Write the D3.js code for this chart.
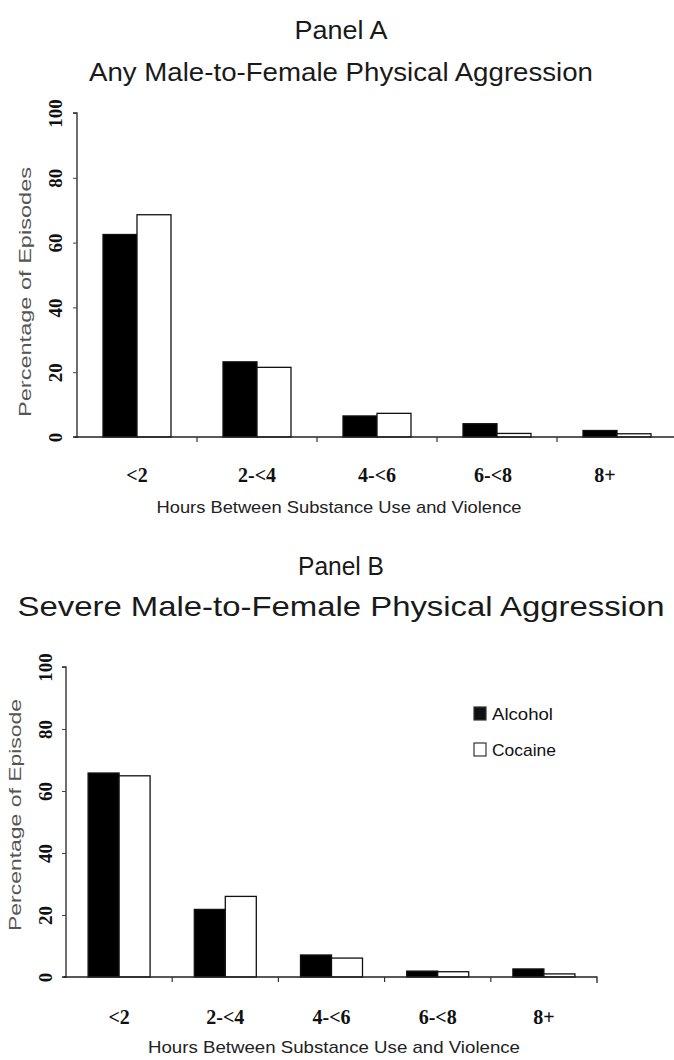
<!DOCTYPE html>
<html><head><meta charset="utf-8">
<script src="https://cdn.jsdelivr.net/npm/d3@7"></script>
<style>body{margin:0;background:#fff;} svg{display:block;}</style>
</head><body>
<svg id="chart" width="674" height="1060"></svg>
<script>
const categories = ["<2", "2-<4", "4-<6", "6-<8", "8+"];
const categoryLabelsB = ["<2", "2-<4", "4-<6", "6-<8", "8+"];
const series = ["Alcohol", "Cocaine"];
const alcoholA = [62.5, 23.2, 6.5, 4.1, 2.0];
const cocaineA = [68.6, 21.5, 7.3, 1.1, 1.0];
const alcoholB = [65.8, 21.8, 7.1, 1.9, 2.6];
const cocaineB = [64.9, 26.0, 6.1, 1.7, 1.0];
const yTicks = [0, 20, 40, 60, 80, 100];

const svg = d3.select("#chart");
svg.append("rect").attr("width", 674).attr("height", 1060).attr("fill", "#fff");

const serif = "'Liberation Serif', 'Times New Roman', serif";
const sans = "'Liberation Sans', Arial, Helvetica, sans-serif";
const narrow = "'Liberation Sans Narrow', 'Liberation Sans', Arial, sans-serif";

function panel(cfg) {
  const g = svg.append("g");
  const rows = categories.map((c, i) => ({cat: c, Alcohol: cfg.alc[i], Cocaine: cfg.coc[i]}));
  const x = d3.scaleBand().domain(categories).range([cfg.x0, cfg.x1]).padding(0);
  const xs = d3.scaleBand().domain(series).range([0, x.bandwidth()]).paddingInner(0).paddingOuter(cfg.pOuter);
  const y = d3.scaleLinear().domain([0, 100]).range([cfg.yBase, cfg.yTop]);

  // titles
  g.append("text").attr("x", cfg.cx).attr("y", cfg.t1y).attr("text-anchor", "middle")
    .attr("font-family", sans).attr("font-size", cfg.t1size).attr("fill", "#1a1a1a")
    .attr("textLength", cfg.t1len).attr("lengthAdjust", "spacingAndGlyphs").text(cfg.title1);
  g.append("text").attr("x", cfg.cx).attr("y", cfg.t2y).attr("text-anchor", "middle")
    .attr("font-family", sans).attr("font-size", cfg.t2size).attr("fill", "#1a1a1a")
    .attr("textLength", cfg.t2len).attr("lengthAdjust", "spacingAndGlyphs").text(cfg.title2);

  // bars
  const grp = g.selectAll("g.cat").data(rows).join("g")
    .attr("transform", d => `translate(${x(d.cat)},0)`);
  grp.selectAll("rect").data(d => series.map(s => ({s, v: d[s]}))).join("rect")
    .attr("x", d => xs(d.s)).attr("width", xs.bandwidth())
    .attr("y", d => y(d.v)).attr("height", d => y(0) - y(d.v))
    .attr("fill", d => d.s === "Alcohol" ? "#000" : "#fff")
    .attr("stroke", "#111").attr("stroke-width", 1.3);

  // y axis
  const ya = g.append("g").attr("transform", `translate(${cfg.yAxisX},0)`)
    .call(d3.axisLeft(y).tickValues(yTicks).tickSize(4).tickFormat(d3.format("d")));
  ya.select(".domain").attr("stroke", "#222").attr("stroke-width", 1.3)
    .attr("d", `M-4,${y(100)}H0V${y(0)}H-4`);
  ya.selectAll(".tick line").attr("stroke", "#444");
  ya.selectAll(".tick text")
    .attr("font-family", serif).attr("font-weight", "bold").attr("font-size", 19).attr("fill", "#111")
    .attr("text-anchor", "middle").attr("x", null).attr("dy", null)
    .attr("transform", `translate(${-cfg.labOff},0) rotate(-90)`)
    .attr("dominant-baseline", "central");

  // x axis: baseline + boundary ticks
  const xa = g.append("g").attr("transform", `translate(0,${cfg.yBase})`)
    .call(d3.axisBottom(x).tickSize(0).tickFormat(""));
  xa.select(".domain").attr("stroke", "#222").attr("stroke-width", 1.3)
    .attr("d", `M${cfg.baseStart},0H${cfg.x1}` + (cfg.endTick ? "V6" : ""));
  const bounds = categories.slice(1).map(c => x(c));
  xa.selectAll("line.bt").data(bounds).join("line").attr("class", "bt")
    .attr("x1", d => d).attr("x2", d => d).attr("y1", 0).attr("y2", 5)
    .attr("stroke", "#333").attr("stroke-width", 1.2);
  g.selectAll("text.xl").data(cfg.labels).join("text").attr("class", "xl")
    .attr("x", (d, i) => x(categories[i]) + x.bandwidth() / 2 + cfg.labShift[i])
    .attr("y", cfg.xlabY).attr("text-anchor", "middle")
    .attr("font-family", serif).attr("font-weight", "bold").attr("font-size", 20).attr("fill", "#111")
    .text(d => d);

  // axis titles
  g.append("text").attr("x", cfg.xtX).attr("y", cfg.xtY).attr("text-anchor", "middle")
    .attr("font-family", narrow).attr("font-size", 17).attr("fill", "#222")
    .attr("textLength", cfg.xtLen).attr("lengthAdjust", "spacingAndGlyphs")
    .text("Hours Between Substance Use and Violence");
  g.append("text").attr("transform", `translate(${cfg.ytX},${cfg.ytY}) rotate(-90)`)
    .attr("text-anchor", "middle").attr("dominant-baseline", "central")
    .attr("font-family", sans).attr("font-size", 16).attr("fill", "#555")
    .attr("textLength", cfg.ytLen).attr("lengthAdjust", "spacingAndGlyphs")
    .text(cfg.ytitle);

  if (cfg.legend) {
    const lg = g.append("g");
    series.forEach((s, i) => {
      const ly = cfg.legY + i * 36;
      lg.append("rect").attr("x", cfg.legX).attr("y", ly - 7).attr("width", 12).attr("height", 13)
        .attr("fill", s === "Alcohol" ? "#111" : "#fff").attr("stroke", "#333").attr("stroke-width", 1.2);
      lg.append("text").attr("x", cfg.legX + 18).attr("y", ly).attr("dominant-baseline", "central")
        .attr("font-family", narrow).attr("font-size", 17).attr("fill", "#111")
        .attr("textLength", s === "Alcohol" ? 61 : 64).attr("lengthAdjust", "spacingAndGlyphs").text(s);
    });
  }
}

panel({
  alc: alcoholA, coc: cocaineA, labels: categories,
  x0: 77, x1: 677, baseStart: 75, pOuter: 0.765, yBase: 437, yTop: 113, yAxisX: 77, labOff: 22,
  cx: 341, t1y: 39, t1size: 25, t1len: 93, title1: "Panel A",
  t2y: 81, t2size: 25, t2len: 504, title2: "Any Male-to-Female Physical Aggression",
  xlabY: 482, labShift: [0, 0, 0, -4, -12],
  xtX: 339, xtY: 513, xtLen: 365,
  ytX: 25, ytY: 292, ytLen: 250, ytitle: "Percentage of Episodes",
  legend: false, endTick: false
});

panel({
  alc: alcoholB, coc: cocaineB, labels: categoryLabelsB,
  x0: 66, x1: 597, baseStart: 64, pOuter: 0.713, yBase: 977, yTop: 667, yAxisX: 66, labOff: 21,
  cx: 341, t1y: 575, t1size: 25, t1len: 86, title1: "Panel B",
  t2y: 616, t2size: 28, t2len: 647, title2: "Severe Male-to-Female Physical Aggression",
  xlabY: 1024, labShift: [0, 0, 0, 0, 0],
  xtX: 334, xtY: 1053, xtLen: 372,
  ytX: 15, ytY: 815, ytLen: 232, ytitle: "Percentage of Episode",
  legend: true, legX: 474, legY: 714, endTick: true
});
</script>
</body></html>
